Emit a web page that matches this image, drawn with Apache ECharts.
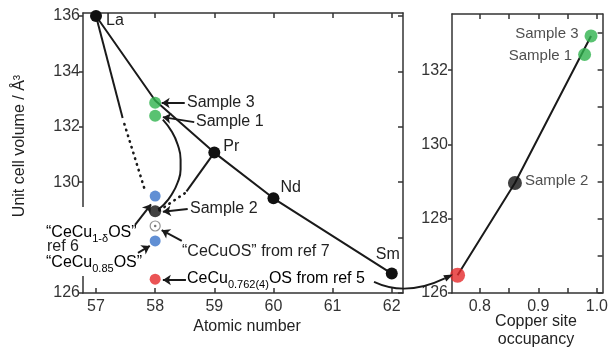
<!DOCTYPE html>
<html><head><meta charset="utf-8">
<script src="https://cdn.jsdelivr.net/npm/echarts@6/dist/echarts.min.js"></script>
<style>html,body{margin:0;padding:0;background:#fff}#c{width:611px;height:347px}</style>
</head><body><div id="c"></div>
<script>
// ---------- Left panel: unit cell volume vs atomic number ----------
const elementNames = ['La', 'Pr', 'Nd', 'Sm'];
const elementZ = [57, 59, 60, 62];
const elementV = [136.0, 131.07, 129.42, 126.7];
// lanthanide trend line (passes Ce position at Z=58)
const trendZ = [57, 58, 59, 60, 62];
const trendV = [136.0, 132.95, 131.07, 129.42, 126.7];
// samples at Z = 58 (Ce)
const sampleNames = ['Sample 3', 'Sample 1', 'Sample 2'];
const sampleZ = [58, 58, 58];
const sampleV = [132.87, 132.4, 128.95];
const sampleColors = ['#2fb34e', '#2fb34e', '#111111'];
const ref6V = [129.5, 127.88];   // "CeCu1-δOS", "CeCu0.85OS"
const ref7V = [128.42];          // "CeCuOS"
const ref5V = [126.5];           // CeCu0.762(4)OS
// guide lines
const laSolid = [[57, 136.0], [57.45, 132.32]];
const laDotted = [[57.48, 132.1], [57.84, 129.62]];
const prSolid = [[59, 131.07], [58.53, 129.67]];
const prDotted = [[58.5, 129.6], [58.07, 128.98]];
const sampleCurve = [[58.13, 132.26], [58.28, 131.83], [58.38, 131.36], [58.43, 130.82], [58.43, 130.46],
  [58.38, 129.99], [58.28, 129.56], [58.15, 129.2], [58.05, 129.02]];
// annotation arrows [tail, head]
const arrowsLeft = [
  [[58.5, 132.86], [58.11, 132.86]],
  [[58.66, 132.17], [58.13, 132.35]],
  [[58.55, 129.03], [58.13, 128.93]],
  [[58.45, 127.88], [58.11, 128.27]],
  [[58.52, 126.47], [58.13, 126.47]],
  [[57.66, 128.46], [57.93, 129.2]],
  [[57.71, 127.45], [57.91, 127.7]]
];
const zTicks = [57, 58, 59, 60, 61, 62];
const vTicksLeft = [126, 128, 130, 132, 134, 136];

// ---------- Right panel: volume vs copper site occupancy ----------
const occNames = ['ref 5', 'Sample 2', 'Sample 1', 'Sample 3'];
const occupancy = [0.762, 0.86, 0.979, 0.99];
const occVolume = [126.48, 128.96, 132.42, 132.92];
const occColors = ['#e5292b', '#111111', '#2fb34e', '#2fb34e'];
const occLine = [[0.762, 126.48], [0.86, 128.96], [0.99, 132.92]];
const occTicksMajor = [0.8, 0.9, 1.0];
const occTicksAll = [0.8, 0.85, 0.9, 0.95, 1.0];
const vTicksRightLab = [126, 128, 130, 132];
const vTicksRightAll = [126, 127, 128, 129, 130, 131, 132, 133];

const FONT = 'Liberation Sans, Arial, sans-serif';
const INK = '#1a1a1a';
const AX = '#333';

const chart = echarts.init(document.getElementById('c'), null, {renderer: 'canvas'});

function axisCommon(extra) {
  return Object.assign({
    type: 'value', splitLine: {show: false},
    axisLine: {show: true, onZero: false, lineStyle: {color: AX, width: 1.5}},
  }, extra);
}

const elementLabelStyle = {
  La: {position: 'right', offset: [-1, 5]},
  Pr: {position: 'right', offset: [-2, -6]},
  Nd: {position: 'right', offset: [-4, -11]},
  Sm: {position: 'top', offset: [-4, 0]}
};
const occLabelStyle = {
  'ref 5': {show: false},
  'Sample 2': {show: true, position: 'right', offset: [-2, -2]},
  'Sample 1': {show: true, position: 'left', offset: [-1, 1]},
  'Sample 3': {show: true, position: 'left', offset: [-1, -2]}
};

const labelText = {fontFamily: FONT, fontSize: 16, color: '#222'};

const option = {
  animation: false,
  backgroundColor: '#fff',
  grid: [
    {left: 83, top: 13, width: 320, height: 280},
    {left: 452, top: 14, width: 157, height: 279}
  ],
  xAxis: [
    axisCommon({gridIndex: 0, min: 56.78, max: 62.19, position: 'bottom',
      axisTick: {show: true, inside: true, length: 5, customValues: zTicks, lineStyle: {color: AX, width: 1.5}},
      axisLabel: {customValues: zTicks, fontFamily: FONT, fontSize: 16, color: AX, margin: 6}}),
    axisCommon({gridIndex: 0, min: 56.78, max: 62.19, position: 'top',
      axisTick: {show: true, inside: true, length: 5, customValues: zTicks, lineStyle: {color: AX, width: 1.5}},
      axisLabel: {show: false}}),
    axisCommon({gridIndex: 1, min: 0.7525, max: 1.0098, position: 'bottom',
      axisTick: {show: true, inside: true, length: 5, customValues: occTicksAll, lineStyle: {color: AX, width: 1.5}},
      axisLabel: {customValues: occTicksMajor, fontFamily: FONT, fontSize: 16, color: AX, margin: 6,
        formatter: v => Number(v).toFixed(1)}}),
    axisCommon({gridIndex: 1, min: 0.7525, max: 1.0098, position: 'top',
      axisTick: {show: true, inside: true, length: 5, customValues: occTicksAll, lineStyle: {color: AX, width: 1.5}},
      axisLabel: {show: false}})
  ],
  yAxis: [
    axisCommon({gridIndex: 0, min: 126, max: 136.11, position: 'left',
      axisTick: {show: true, inside: false, length: 4, customValues: vTicksLeft, lineStyle: {color: AX, width: 1.5}},
      axisLabel: {customValues: vTicksLeft, fontFamily: FONT, fontSize: 16, color: AX, margin: 3}}),
    axisCommon({gridIndex: 0, min: 126, max: 136.11, position: 'right',
      axisTick: {show: true, inside: true, length: 5, customValues: vTicksLeft, lineStyle: {color: AX, width: 1.5}},
      axisLabel: {show: false}}),
    axisCommon({gridIndex: 1, min: 126, max: 133.51, position: 'left',
      axisTick: {show: true, inside: false, length: 4, customValues: vTicksRightLab, lineStyle: {color: AX, width: 1.5}},
      axisLabel: {customValues: vTicksRightLab, fontFamily: FONT, fontSize: 16, color: AX, margin: 4}}),
    axisCommon({gridIndex: 1, min: 126, max: 133.51, position: 'right',
      axisTick: {show: true, inside: true, length: 5, customValues: vTicksRightAll, lineStyle: {color: AX, width: 1.5}},
      axisLabel: {show: false}})
  ],
  series: [
    // lanthanide trend
    {type: 'line', xAxisIndex: 0, yAxisIndex: 0, showSymbol: false, silent: true,
      data: trendZ.map((z, i) => [z, trendV[i]]), lineStyle: {color: INK, width: 2}},
    {type: 'line', xAxisIndex: 0, yAxisIndex: 0, showSymbol: false, data: laSolid, lineStyle: {color: INK, width: 2}},
    {type: 'line', xAxisIndex: 0, yAxisIndex: 0, showSymbol: false, data: laDotted,
      lineStyle: {color: INK, width: 2.6, type: [0.5, 5.5], cap: 'round'}},
    {type: 'line', xAxisIndex: 0, yAxisIndex: 0, showSymbol: false, data: prSolid, lineStyle: {color: INK, width: 2}},
    {type: 'line', xAxisIndex: 0, yAxisIndex: 0, showSymbol: false, data: prDotted,
      lineStyle: {color: INK, width: 2.6, type: [0.5, 5.5], cap: 'round'}},
    {type: 'line', xAxisIndex: 0, yAxisIndex: 0, showSymbol: false, smooth: 0.5, data: sampleCurve,
      lineStyle: {color: INK, width: 2}},
    // annotation arrows
    {type: 'lines', coordinateSystem: 'cartesian2d', xAxisIndex: 0, yAxisIndex: 0, z: 5,
      symbol: ['none', 'arrow'], symbolSize: 8,
      lineStyle: {color: INK, width: 2, opacity: 1},
      data: arrowsLeft.map(a => ({coords: a}))},
    // element points
    {type: 'scatter', xAxisIndex: 0, yAxisIndex: 0, symbolSize: 12, z: 6,
      itemStyle: {color: '#111', opacity: 1},
      label: Object.assign({show: true, formatter: p => p.name, distance: 5}, labelText),
      data: elementNames.map((n, i) => ({name: n, value: [elementZ[i], elementV[i]], label: elementLabelStyle[n]}))},
    // samples at Ce
    {type: 'scatter', xAxisIndex: 0, yAxisIndex: 0, symbolSize: 12, z: 6,
      data: sampleNames.map((n, i) => ({name: n, value: [sampleZ[i], sampleV[i]], itemStyle: {color: sampleColors[i]}}))},
    {type: 'scatter', xAxisIndex: 0, yAxisIndex: 0, symbolSize: 11, z: 6, itemStyle: {color: '#3a73c9'},
      data: ref6V.map(v => [58, v])},
    {type: 'scatter', xAxisIndex: 0, yAxisIndex: 0, symbolSize: 10, z: 6,
      itemStyle: {color: '#fff', borderColor: '#777', borderWidth: 1.2},
      data: ref7V.map(v => [58, v])},
    {type: 'scatter', xAxisIndex: 0, yAxisIndex: 0, symbolSize: 2.5, z: 7, itemStyle: {color: '#555'},
      data: ref7V.map(v => [58, v])},
    {type: 'scatter', xAxisIndex: 0, yAxisIndex: 0, symbolSize: 11, z: 6, itemStyle: {color: '#e5292b'},
      data: ref5V.map(v => [58, v])},
    // right panel
    {type: 'line', xAxisIndex: 2, yAxisIndex: 2, showSymbol: false, data: occLine, lineStyle: {color: INK, width: 2}},
    {type: 'scatter', xAxisIndex: 2, yAxisIndex: 2, z: 6,
      label: Object.assign({formatter: p => p.name, distance: 5}, labelText, {fontSize: 15}),
      data: occNames.map((n, i) => ({name: n, value: [occupancy[i], occVolume[i]],
        symbolSize: i === 0 ? 15 : (i === 1 ? 14 : 13),
        itemStyle: {color: occColors[i]}, label: occLabelStyle[n]}))}
  ]
};
chart.setOption(option);

// ---------- graphic overlays (texts, mask, cross-panel curved arrow) ----------
const p0 = chart.convertToPixel({gridIndex: 0}, [61.7, 126.4]);
const p2 = chart.convertToPixel({gridIndex: 1}, [0.754, 126.5]);
const cp = [406, 297];
const dx = p2[0] - cp[0], dy = p2[1] - cp[1];
const len = Math.hypot(dx, dy), ux = dx / len, uy = dy / len;
const ah = 9, aw = 3.5;
const base = [p2[0] - ux * ah, p2[1] - uy * ah];

const tStyle = (txt, x, y, extra, rot) => ({type: 'text', z: 20, x, y, rotation: rot || 0,
  style: Object.assign({text: txt, fill: '#222', font: '16px ' + FONT, verticalAlign: 'middle', align: 'left'}, extra || {})});
const rich = {
  a: {fontFamily: FONT, fontSize: 16, color: '#222', verticalAlign: 'middle', lineHeight: 22},
  s: {fontFamily: FONT, fontSize: 11, color: '#222', verticalAlign: 'bottom', lineHeight: 12}
};
const richText = (txt, x, y) => ({type: 'text', z: 20, x, y,
  style: {text: txt, rich, verticalAlign: 'middle', align: 'left'}});

chart.setOption({graphic: [
  // mask over the left axis behind the literature labels
  {type: 'rect', z: 1, shape: {x: 40, y: 207, width: 96, height: 69}, style: {fill: '#fff'}},
  tStyle('Sample 3', 187, 103),
  tStyle('Sample 1', 196, 122),
  tStyle('Sample 2', 190, 209),
  tStyle('\u201cCeCuOS\u201d from ref 7', 182, 252),
  richText('{a|CeCu}{s|0.762(4)}{a|OS from ref 5}', 187, 279),
  richText('{a|\u201cCeCu}{s|1-\u03b4}{a|OS\u201d}', 46, 233),
  tStyle('ref 6', 47, 247),
  richText('{a|\u201cCeCu}{s|0.85}{a|OS\u201d}', 46, 263),
  // axis titles
  tStyle('Unit cell volume / \u00c5\u00b3', 20, 146, {align: 'center'}, Math.PI / 2),
  tStyle('Atomic number', 247, 327, {align: 'center'}),
  tStyle('Copper site', 536, 322, {align: 'center'}),
  tStyle('occupancy', 536, 340, {align: 'center'}),
  // curved arrow between panels
  {type: 'bezierCurve', z: 20, shape: {x1: p0[0], y1: p0[1], x2: base[0], y2: base[1], cpx1: cp[0], cpy1: cp[1]},
    style: {stroke: INK, lineWidth: 1.8, fill: null}},
  {type: 'polygon', z: 20, shape: {points: [p2,
    [base[0] - uy * aw, base[1] + ux * aw], [base[0] + uy * aw, base[1] - ux * aw]]},
    style: {fill: INK}}
]});
</script>
</body></html>
